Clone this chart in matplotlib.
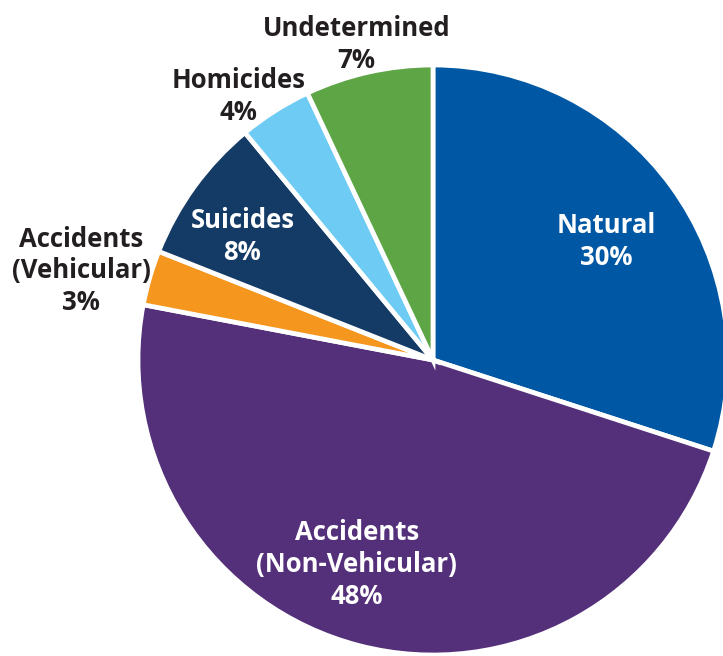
import numpy as np
import matplotlib.pyplot as plt

# slices, clockwise from 12 o'clock
labels = ['Natural', 'Accidents\n(Non-Vehicular)', 'Accidents\n(Vehicular)',
          'Suicides', 'Homicides', 'Undetermined']
shares = [30, 48, 3, 8, 4, 7]
colors = ['#0057a3', '#542f7a', '#f5961f', '#143a66', '#6dcbf4', '#5ea546']
text_colors = ['white', 'white', '#231f20', 'white', '#231f20', '#231f20']
# label placement: radius fraction and angle nudge (deg)
label_r = [0.71, 0.74, 1.23, 0.77, 1.11, 1.10]
label_dt = [-1.6, -6, 2, 3, 4, 1]

W, H = 723, 656
cx, cy, R = 433, H - 360, 295

fig = plt.figure(figsize=(7.23, 6.56), dpi=100)
ax = fig.add_axes([0, 0, 1, 1])

wedges, _ = ax.pie(shares, colors=colors, startangle=90, counterclock=False,
                   center=(cx, cy), radius=R, frame=True,
                   wedgeprops=dict(edgecolor='white', linewidth=3.4))
ax.set_xlim(0, W)
ax.set_ylim(0, H)
ax.set_aspect('equal')
ax.axis('off')

for w, lab, s, tc, fr, dt in zip(wedges, labels, shares, text_colors, label_r, label_dt):
    mid = np.deg2rad((w.theta1 + w.theta2) / 2 + dt)
    x = cx + fr * R * np.cos(mid)
    y = cy + fr * R * np.sin(mid)
    ax.text(x, y, f'{lab}\n{s}%', ha='center', va='center', color=tc,
            fontsize=18.5, fontweight='bold', family='Open Sans',
            linespacing=1.22)

fig.savefig('out.png', dpi=100)
